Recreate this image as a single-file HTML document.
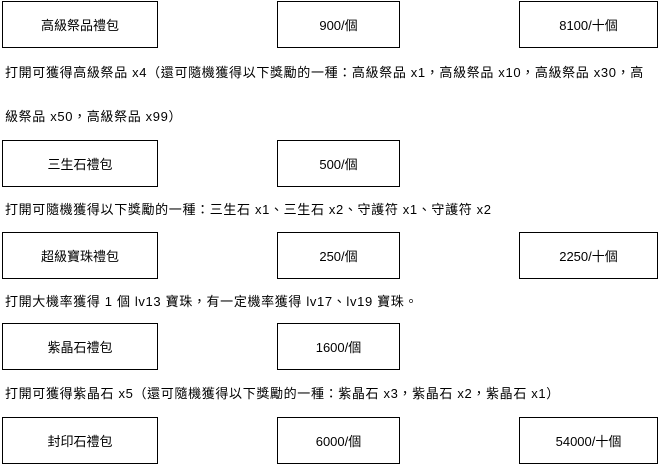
<!DOCTYPE html>
<html><head><meta charset="utf-8"><style>
body{margin:0;width:661px;height:465px;background:#fff;position:relative;font-family:"Liberation Sans","Noto Sans CJK TC",sans-serif;font-size:13px;color:#000;overflow:hidden}
.b{position:absolute;border:1px solid #000;box-sizing:border-box;display:flex;align-items:center;justify-content:center;height:47px}
.c1{left:2px;width:156px}.c2{left:277px;width:123px}.c3{left:519px;width:139px}
.t{position:absolute;left:5px;white-space:nowrap;line-height:16px;letter-spacing:0.65px}
</style></head><body>
<div class="b c1" style="top:1px">高級祭品禮包</div>
<div class="b c2" style="top:1px">900/個</div>
<div class="b c3" style="top:1px">8100/十個</div>
<div class="t" style="top:65px">打開可獲得高級祭品 x4（還可隨機獲得以下獎勵的一種：高級祭品 x1，高級祭品 x10，高級祭品 x30，高</div>
<div class="t" style="top:109px">級祭品 x50，高級祭品 x99）</div>
<div class="b c1" style="top:140px">三生石禮包</div>
<div class="b c2" style="top:140px">500/個</div>
<div class="t" style="top:202px">打開可隨機獲得以下獎勵的一種：三生石 x1、三生石 x2、守護符 x1、守護符 x2</div>
<div class="b c1" style="top:232px">超級寶珠禮包</div>
<div class="b c2" style="top:232px">250/個</div>
<div class="b c3" style="top:232px">2250/十個</div>
<div class="t" style="top:294px">打開大機率獲得 1 個 lv13 寶珠，有一定機率獲得 lv17、lv19 寶珠。</div>
<div class="b c1" style="top:323px">紫晶石禮包</div>
<div class="b c2" style="top:323px">1600/個</div>
<div class="t" style="top:386px">打開可獲得紫晶石 x5（還可隨機獲得以下獎勵的一種：紫晶石 x3，紫晶石 x2，紫晶石 x1）</div>
<div class="b c1" style="top:417px">封印石禮包</div>
<div class="b c2" style="top:417px">6000/個</div>
<div class="b c3" style="top:417px">54000/十個</div>
</body></html>
